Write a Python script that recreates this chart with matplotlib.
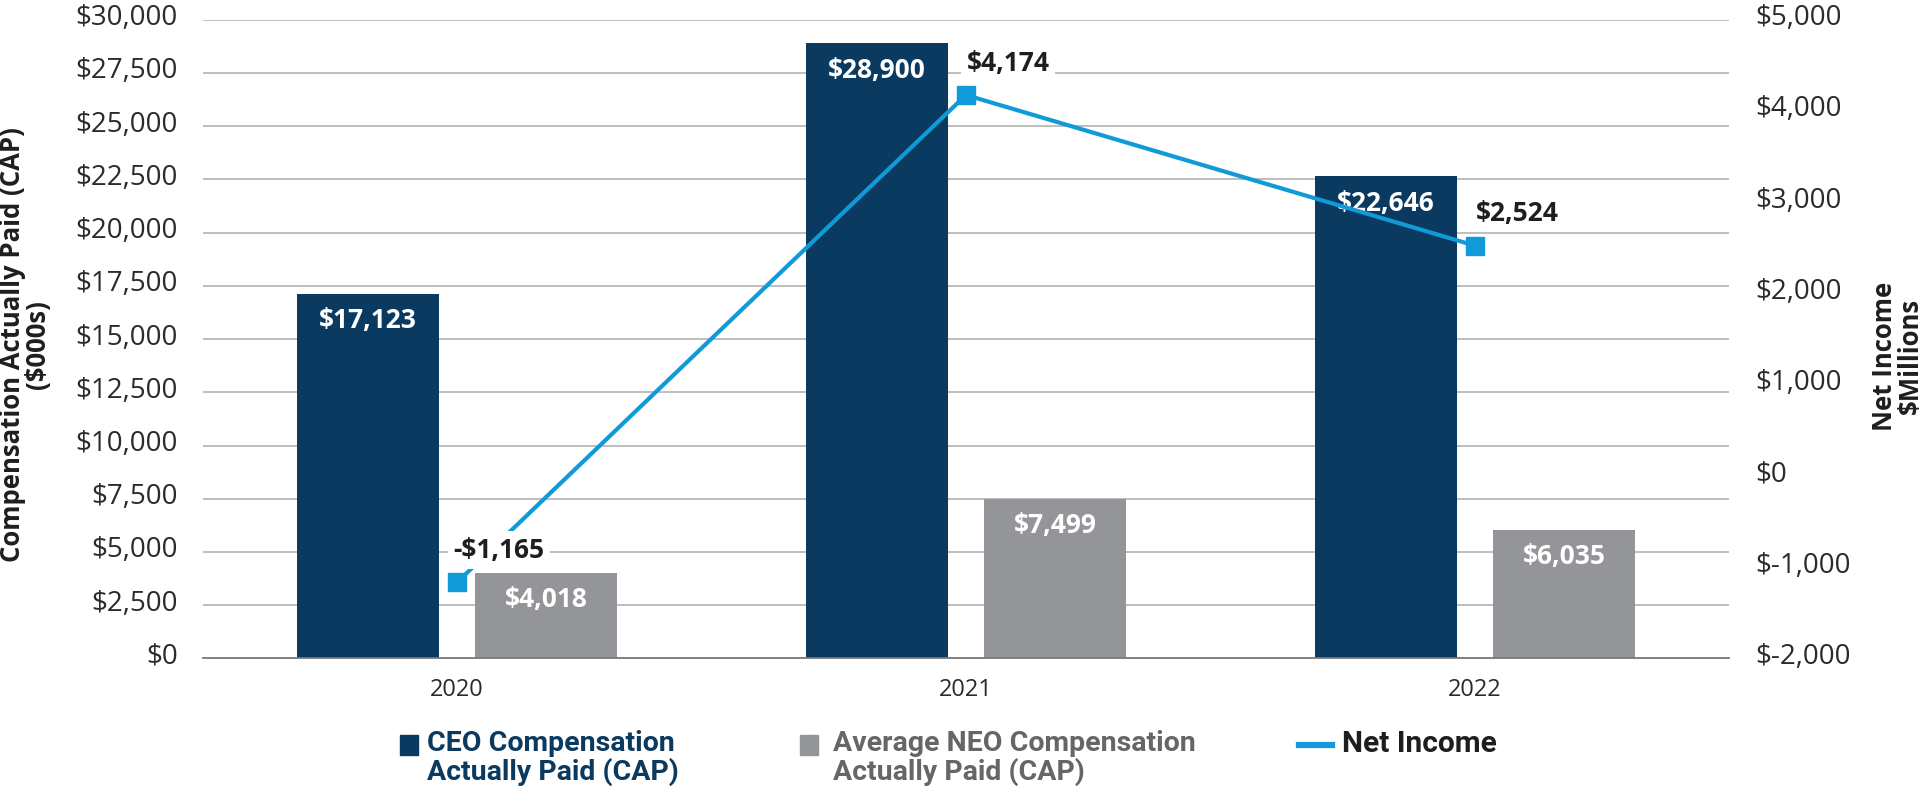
import matplotlib.pyplot as plt
import numpy as np
from matplotlib.ticker import FuncFormatter, MultipleLocator
from matplotlib.patches import Rectangle
from matplotlib.lines import Line2D
from matplotlib.transforms import ScaledTranslation

# Data
years = ['2020', '2021', '2022']
ceo_cap = [17123, 28900, 22646]       # $000s
neo_cap = [4018, 7499, 6035]          # $000s
net_income = [-1165, 4174, 2524]      # $ millions

navy = '#0b3a60'
grey = '#939598'
blue = '#109ad8'
txt = '#2b2b2b'

plt.rcParams['font.family'] = ['Open Sans', 'DejaVu Sans']

fig = plt.figure(figsize=(19.3, 7.92), dpi=100)
ax = fig.add_axes([0.105, 0.1686, 0.791, 0.8066])
x = np.arange(len(years))
w = 0.278
off = 0.175

b1 = ax.bar(x - off, ceo_cap, w, color=navy, zorder=2)
b2 = ax.bar(x + off, neo_cap, w, color=grey, zorder=2)

for bars, vals in ((b1, ceo_cap), (b2, neo_cap)):
    for r, v in zip(bars, vals):
        ax.annotate(f'${v:,}', (r.get_x() + r.get_width() / 2, v),
                    xytext=(0, -27), textcoords='offset pixels',
                    ha='center', va='center', color='white',
                    fontsize=19, fontweight='bold', zorder=3)

ax.set_xlim(-0.5, 2.5)
ax.set_ylim(0, 30000)
ax.yaxis.set_major_locator(MultipleLocator(2500))
ax.yaxis.set_major_formatter(FuncFormatter(lambda v, p: f'${v:,.0f}'))
ax.set_xticks(x)
ax.set_xticklabels(years)
ax.grid(axis='y', color='#b9b9b9', linewidth=1.3, zorder=0)
ax.set_axisbelow(True)
for s in ['top', 'right', 'left']:
    ax.spines[s].set_visible(False)
ax.spines['bottom'].set_color('#7a7a7a')
ax.spines['bottom'].set_linewidth(1.3)
ax.tick_params(axis='both', length=0, colors=txt)
ax.tick_params(axis='y', pad=18, labelsize=20)
ax.tick_params(axis='x', pad=14, labelsize=17)

ax2 = ax.twinx()
ax2.plot(x, net_income, color=blue, linewidth=3, marker='s',
         markersize=13.5, zorder=4)
ax2.set_ylim(-2000, 5000)
ax2.yaxis.set_major_locator(MultipleLocator(1000))
ax2.yaxis.set_major_formatter(FuncFormatter(lambda v, p: f'${v:,.0f}'))
ax2.tick_params(axis='y', length=0, labelsize=20, colors=txt, pad=19)
for s in ax2.spines.values():
    s.set_visible(False)

# tick labels sit a little above their gridlines
lift = ScaledTranslation(0, 5 / 100, fig.dpi_scale_trans)
for a in (ax, ax2):
    for t in a.get_yticklabels():
        t.set_transform(t.get_transform() + lift)

for xi, v in zip(x, net_income):
    lab = ('-' if v < 0 else '') + f'${abs(v):,}'
    ax2.annotate(lab, (xi, v), xytext=(42, 32), textcoords='offset pixels',
                 ha='center', va='center', fontsize=19, fontweight='bold',
                 color='#1e1e1e', zorder=5,
                 bbox=dict(boxstyle='square,pad=0.2', fc='white', ec='none'))

# axis titles
fig.text(25 / 1930, 0.565, 'Compensation Actually Paid (CAP)\n($000s)',
         rotation=90, ha='center', va='center', fontsize=18.5,
         fontweight='bold', color='#1e1e1e', linespacing=0.95)
fig.text(1897 / 1930, 0.55, 'Net Income\n$Millions',
         rotation=90, ha='center', va='center', fontsize=18.5,
         fontweight='bold', color='#1e1e1e', linespacing=0.95)

# legend, drawn by hand so the handles sit on the first text line
W, H = 1930, 792
def fx(px):
    return px / W
def fy(py):
    return 1 - py / H

legend_font = ['Roboto', 'DejaVu Sans']
fig.add_artist(Rectangle((fx(400), fy(755)), fx(18), 20 / H,
                         color=navy, transform=fig.transFigure))
fig.text(fx(427), fy(730), 'CEO Compensation\nActually Paid (CAP)',
         ha='left', va='top', fontsize=20.5, fontweight='bold', color=navy,
         family=legend_font, linespacing=1.05)
fig.add_artist(Rectangle((fx(800), fy(755)), fx(18), 20 / H,
                         color=grey, transform=fig.transFigure))
fig.text(fx(833), fy(730), 'Average NEO Compensation\nActually Paid (CAP)',
         ha='left', va='top', fontsize=20.5, fontweight='bold', color='#666666',
         family=legend_font, linespacing=1.05)
fig.add_artist(Line2D([fx(1299), fx(1332)], [fy(745), fy(745)],
                      color=blue, linewidth=4.5, transform=fig.transFigure))
fig.text(fx(1342), fy(730), 'Net Income',
         ha='left', va='top', fontsize=21.5, fontweight='bold', color='#1e1e1e',
         family=legend_font)

fig.savefig('out.png', dpi=100)
